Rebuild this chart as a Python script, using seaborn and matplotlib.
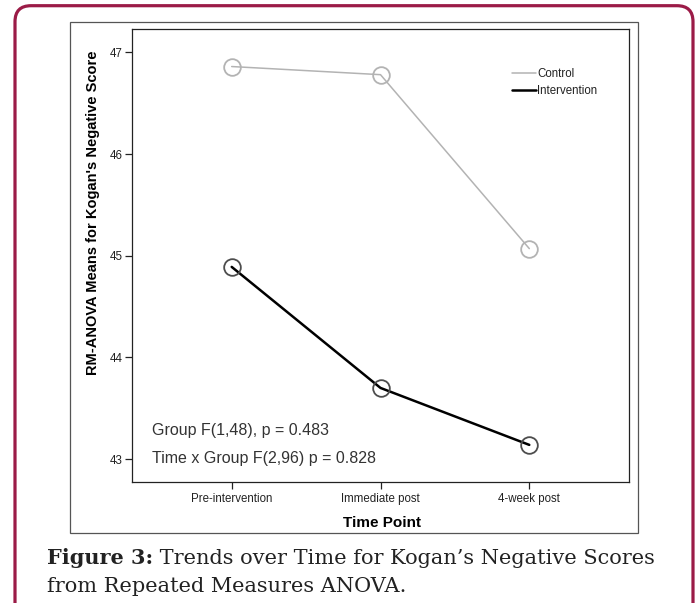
import matplotlib
matplotlib.use("Agg")
import matplotlib.pyplot as plt
import matplotlib.text as mtext
import seaborn as sns
import pandas as pd
from matplotlib.lines import Line2D
from matplotlib.patches import Rectangle, FancyBboxPatch

# ---- data ----
time_points = ["Pre-intervention", "Immediate post", "4-week post"]
control = [46.86, 46.78, 45.07]
intervention = [44.89, 43.70, 43.14]
y_ticks = [43, 44, 45, 46, 47]
group_colors = {"Control": "#b3b3b3", "Intervention": "#000000"}
marker_edges = {"Control": "#b3b3b3", "Intervention": "#4d4d4d"}
line_widths = {"Control": 1.1, "Intervention": 1.8}

df = pd.DataFrame({
    "pos": list(range(len(time_points))) * 2,
    "score": control + intervention,
    "group": ["Control"] * 3 + ["Intervention"] * 3,
})

sns.set_theme(style="white")
plt.rcParams["font.family"] = ["Liberation Sans", "DejaVu Sans"]

W, H = 697, 603
fig = plt.figure(figsize=(W / 100, H / 100), dpi=100)

# outer maroon rounded frame
frame = FancyBboxPatch((0.15, -0.5), 6.78, 5.973 + 0.5,
                       boxstyle="round,pad=0,rounding_size=0.16",
                       transform=fig.dpi_scale_trans, fill=False,
                       edgecolor="#9b1b47", linewidth=2.3, zorder=0)
fig.patches.append(frame)

# inner chart box
box = Rectangle((70 / W, (H - 533) / H), 568 / W, 511.5 / H,
                transform=fig.transFigure, fill=False,
                edgecolor="#555555", linewidth=0.9, zorder=0)
fig.patches.append(box)

ax_l, ax_r, ax_t, ax_b = 132, 629, 28.5, 481.5
ax = fig.add_axes([ax_l / W, (H - ax_b) / H, (ax_r - ax_l) / W, (ax_b - ax_t) / H])

for g in ["Control", "Intervention"]:
    sub = df[df["group"] == g]
    sns.lineplot(data=sub, x="pos", y="score", ax=ax, color=group_colors[g],
                 linewidth=line_widths[g], marker="o", markersize=12,
                 markerfacecolor="none", markeredgecolor=marker_edges[g],
                 markeredgewidth=1.3, legend=False)

ax.set_xlim(-0.67, 2.67)
ax.set_ylim(42.78, 47.234)
ax.set_xticks(range(len(time_points)))
ax.set_xticklabels(time_points, fontsize=8.3)
ax.set_yticks(y_ticks)
ax.set_yticklabels([str(t) for t in y_ticks], fontsize=8.3)
ax.tick_params(axis="both", direction="out", length=5, width=0.9, color="#222222",
               labelcolor="#222222", bottom=True, left=True, pad=2)
ax.tick_params(axis="x", pad=3)
for s in ax.spines.values():
    s.set_color("#222222")
    s.set_linewidth(0.9)

ax.set_xlabel("Time Point", fontsize=11, fontweight="bold", color="black")
ax.set_ylabel("RM-ANOVA Means for Kogan's Negative Score", fontsize=10.5,
              fontweight="bold", color="black")
ax.xaxis.set_label_coords((382 - ax_l) / (ax_r - ax_l), (ax_b - 523) / (ax_b - ax_t))
ax.yaxis.set_label_coords((93 - ax_l) / (ax_r - ax_l), (ax_b - 212.5) / (ax_b - ax_t))
ax.xaxis.label.set_va("center")
ax.yaxis.label.set_va("center")

handles = [Line2D([], [], color=group_colors[g], linewidth=line_widths[g]) for g in group_colors]
leg = ax.legend(handles, list(group_colors), loc="upper left",
                bbox_to_anchor=((512 - ax_l) / (ax_r - ax_l), (ax_b - 68) / (ax_b - ax_t)),
                frameon=False, fontsize=8.3, handlelength=2.1, handletextpad=0.1,
                labelspacing=0.45, borderpad=0, borderaxespad=0)
for t in leg.get_texts():
    t.set_color("#222222")

ax.text((152 - ax_l) / (ax_r - ax_l), (ax_b - 430) / (ax_b - ax_t),
        "Group F(1,48), p = 0.483", transform=ax.transAxes, fontsize=11.5,
        va="center", ha="left", color="#333333")
ax.text((152 - ax_l) / (ax_r - ax_l), (ax_b - 458) / (ax_b - ax_t),
        "Time x Group F(2,96) p = 0.828", transform=ax.transAxes, fontsize=11.5,
        va="center", ha="left", color="#333333")

# caption
t1 = fig.text(47 / W, (H - 558) / H, "Figure 3:", fontsize=15, fontweight="bold",
              family=["DejaVu Serif"], va="center", ha="left", color="#222222")
fig.add_artist(mtext.Annotation(
    " Trends over Time for Kogan\u2019s Negative Scores", xy=(1, 0), xycoords=t1,
    va="bottom", ha="left", fontsize=15, family=["DejaVu Serif"], color="#222222"))
fig.text(47 / W, (H - 587) / H, "from Repeated Measures ANOVA.", fontsize=15,
         family=["DejaVu Serif"], va="center", ha="left", color="#222222")

fig.savefig("out.png", dpi=100)
